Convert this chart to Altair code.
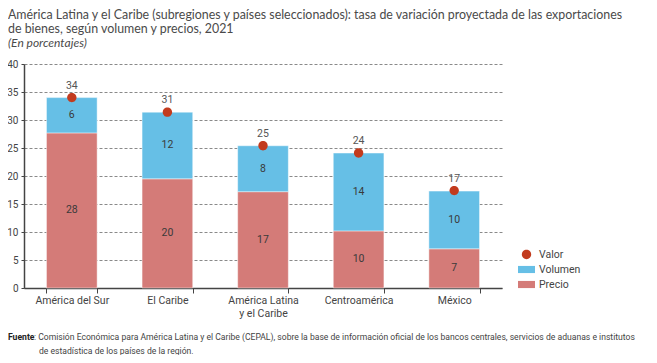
import altair as alt
import pandas as pd

categorias = ["América del Sur", "El Caribe", "América Latina y el Caribe", "Centroamérica", "México"]
precio = [27.7, 19.5, 17.2, 10.2, 7.0]
volumen = [6.3, 11.9, 8.2, 13.9, 10.3]
valor = [34.0, 31.4, 25.4, 24.1, 17.4]
precio_lbl = ["28", "20", "17", "10", "7"]
volumen_lbl = ["6", "12", "8", "14", "10"]
valor_lbl = ["34", "31", "25", "24", "17"]
y_ticks = [0, 5, 10, 15, 20, 25, 30, 35, 40]

series = ["Valor", "Volumen", "Precio"]
colores = ["#c23b1e", "#66bfe6", "#d47b78"]

FONT = "Roboto"
TFONT = "Lato"

rows = []
for i, c in enumerate(categorias):
    rows.append({"cat": c, "serie": "Precio", "y0": 0.0, "y1": precio[i],
                 "mid": precio[i] / 2, "lbl": precio_lbl[i]})
    rows.append({"cat": c, "serie": "Volumen", "y0": precio[i], "y1": precio[i] + volumen[i],
                 "mid": precio[i] + volumen[i] / 2, "lbl": volumen_lbl[i]})
bars_df = pd.DataFrame(rows)
val_df = pd.DataFrame({"cat": categorias, "serie": ["Valor"] * 5, "valor": valor, "lbl": valor_lbl})

x_axis = alt.Axis(labelAngle=0, tickBand="extent", tickSize=5, tickColor="#444",
                  domainColor="#444", domainWidth=1.5, labelFont=FONT, labelFontSize=10.5,
                  labelColor="#444", labelPadding=2, labelLineHeight=13,
                  labelExpr="datum.label == 'América Latina y el Caribe' ? ['América Latina', 'y el Caribe'] : datum.label")
x_scale = alt.Scale(paddingInner=0.47, paddingOuter=0.235)
y_scale = alt.Scale(domain=[0, 40], nice=False)
y_axis = alt.Axis(values=y_ticks, grid=True, gridDash=[3, 2], gridColor="#8a8a8a",
                  gridWidth=1, tickSize=3, tickColor="#444", domainColor="#444", domainWidth=1.5,
                  labelFont=FONT, labelFontSize=10, labelColor="#444", labelPadding=3)


def X():
    return alt.X("cat:N", sort=categorias, title=None, scale=x_scale, axis=x_axis)


def Y(field):
    return alt.Y(field, scale=y_scale, axis=y_axis, title=None)


color_scale = alt.Scale(domain=series, range=colores)
rect_path = "M-1,-0.42H1V0.42H-1Z"
circle_path = "M0.55,0A0.55,0.55,0,1,1,-0.55,0A0.55,0.55,0,1,1,0.55,0Z"
shape_scale = alt.Scale(domain=series, range=[circle_path, rect_path, rect_path])
legend = alt.Legend(title=None, orient="none", legendX=494, legendY=182, symbolSize=289,
                    labelFont=FONT, labelFontSize=10.5, labelColor="#444", rowPadding=1,
                    symbolStrokeWidth=0, labelOffset=4, padding=0)

base_b = alt.Chart(bars_df)
bars = base_b.mark_bar(stroke="white", strokeWidth=1, strokeOpacity=0.45).encode(
    x=X(),
    y=Y("y0:Q"),
    y2="y1:Q",
    color=alt.Color("serie:N", scale=color_scale, legend=legend),
)
seg_text = base_b.mark_text(font=FONT, fontSize=10.5, color="#3a3a3a").encode(
    x=X(),
    y=Y("mid:Q"),
    text="lbl:N",
)
base_v = alt.Chart(val_df)
points = base_v.mark_point(filled=True, opacity=1, size=289).encode(
    x=X(),
    y=Y("valor:Q"),
    color=alt.Color("serie:N", scale=color_scale, legend=legend),
    shape=alt.Shape("serie:N", scale=shape_scale, legend=legend),
)
val_text = base_v.mark_text(font=FONT, fontSize=10.5, color="#555", dy=-12).encode(
    x=X(),
    y=Y("valor:Q"),
    text="lbl:N",
)

fuente1 = ["Comisión Económica para América Latina y el Caribe (CEPAL), sobre la base de información oficial de los bancos centrales, servicios de aduanas e institutos"]
fuente2 = ["de estadística de los países de la región."]
FS = 8.6
fuente_bold = alt.Chart(pd.DataFrame({"t": ["Fuente"]})).mark_text(
    font=FONT, fontSize=FS, fontWeight="bold", color="#222", align="left", baseline="middle"
).encode(x=alt.value(-16), y=alt.value(273), text="t:N")
fuente_l1 = alt.Chart(pd.DataFrame({"t": [": " + fuente1[0]]})).mark_text(
    font=FONT, fontSize=FS, color="#444", align="left", baseline="middle"
).encode(x=alt.value(10), y=alt.value(273), text="t:N")
fuente_l2 = alt.Chart(pd.DataFrame({"t": fuente2})).mark_text(
    font=FONT, fontSize=FS, color="#444", align="left", baseline="middle"
).encode(x=alt.value(15), y=alt.value(287), text="t:N")

chart = alt.layer(bars, seg_text, points, val_text, fuente_bold, fuente_l1, fuente_l2).properties(
    width=478, height=224,
    autosize=alt.AutoSizeParams(type="none"),
    padding={"left": 16, "top": 56, "right": 147, "bottom": 67},
    title=alt.TitleParams(
        text=["América Latina y el Caribe (subregiones y países seleccionados): tasa de variación proyectada de las exportaciones",
              "de bienes, según volumen y precios, 2021"],
        subtitle="(En porcentajes)",
        anchor="start", frame="group", dx=-16, offset=10,
        font=TFONT, fontSize=12.4, fontWeight="normal", color="#4a4a4a", lineHeight=14,
        subtitleFont=TFONT, subtitleFontSize=12, subtitleFontStyle="italic", subtitleColor="#4a4a4a",
        subtitlePadding=3, subtitleLineHeight=14,
    ),
).configure_view(stroke=None)

chart.save("out.html", embed_options={"renderer": "svg", "actions": False})
